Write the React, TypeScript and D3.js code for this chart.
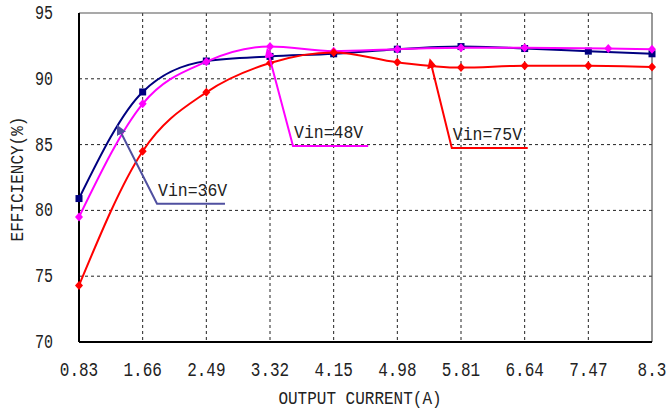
import React from "react";
import * as d3 from "d3";

// Output current (A) at the measured points
const current = [0.83, 1.66, 2.49, 3.32, 4.15, 4.98, 5.81, 6.64, 7.47, 8.3];
const current48 = [0.83, 1.66, 2.49, 3.32, 4.15, 4.98, 5.81, 6.64, 7.73, 8.3];

// Efficiency (%) per input voltage
const eff36 = [80.9, 89.0, 91.35, 91.7, 91.9, 92.25, 92.45, 92.3, 92.1, 91.9];
const eff48 = [79.5, 88.1, 91.3, 92.45, 92.1, 92.25, 92.35, 92.35, 92.3, 92.25];
const eff75 = [74.3, 84.5, 88.97, 91.2, 92.0, 91.25, 90.85, 91.0, 91.0, 90.9];

const xTicks = [0.83, 1.66, 2.49, 3.32, 4.15, 4.98, 5.81, 6.64, 7.47, 8.3];
const xTickLabels = ["0.83", "1.66", "2.49", "3.32", "4.15", "4.98", "5.81", "6.64", "7.47", "8.3"];
const yTicks = [70, 75, 80, 85, 90, 95];

// Callout labels: anchor on curve, elbow, end of the underline (data coords)
const calloutNames = ["Vin=36V", "Vin=48V", "Vin=75V"];
const calloutAnchor: [number, number][] = [[1.378, 85.9], [3.31, 91.7], [5.43, 90.9]];
const calloutElbow: [number, number][] = [[1.847, 80.5], [3.62, 84.9], [5.69, 84.75]];
const calloutEnd = [2.733, 4.6, 6.68];

const W = 671;
const H = 415;
const M = { left: 79, right: 19, top: 13, bottom: 73 };

const NAVY = "#000080";
const MAGENTA = "#FF00FF";
const RED = "#FF0000";
const SLATE = "#5050A0";
const FONT = "'Liberation Mono', 'DejaVu Sans Mono', monospace";

function StretchText(props: {
  x: number; y: number; text: string; size: number; sy: number;
  anchor?: string; rotate?: number; fill?: string;
}) {
  const { x, y, text, size, sy, anchor = "middle", rotate = 0, fill = "#222" } = props;
  return (
    <text
      transform={`translate(${x},${y}) rotate(${rotate}) scale(1,${sy})`}
      textAnchor={anchor}
      dominantBaseline="central"
      fontFamily={FONT}
      fontSize={size}
      fill={fill}
    >
      {text}
    </text>
  );
}

export default function App() {
  const x = d3.scaleLinear().domain([0.83, 8.3]).range([M.left, W - M.right]);
  const y = d3.scaleLinear().domain([70, 95]).range([H - M.bottom, M.top]);

  const series = [
    { xs: current, ys: eff36, color: NAVY, shape: "square" },
    { xs: current48, ys: eff48, color: MAGENTA, shape: "diamond" },
    { xs: current, ys: eff75, color: RED, shape: "diamond" },
  ];

  const line = d3
    .line<[number, number]>()
    .x((d) => x(d[0]))
    .y((d) => y(d[1]))
    .curve(d3.curveMonotoneX);

  const calloutColors = [SLATE, MAGENTA, RED];

  return (
    <svg width={W} height={H} style={{ position: "absolute", left: 0, top: 0, background: "#fff" }}>
      <defs>
        {calloutColors.map((c, i) => (
          <marker
            key={i}
            id={`arrow${i}`}
            viewBox="0 0 10 10"
            refX="1"
            refY="5"
            markerWidth="5"
            markerHeight="5"
            orient="auto-start-reverse"
            markerUnits="strokeWidth"
          >
            <path d="M0,0 L10,5 L0,10 z" fill={c} />
          </marker>
        ))}
      </defs>

      {/* grid */}
      {xTicks.slice(1, -1).map((t) => (
        <line key={`gx${t}`} x1={x(t)} x2={x(t)} y1={y(95)} y2={y(70)}
          stroke="#222" strokeWidth={1} strokeDasharray="3,3" />
      ))}
      {yTicks.slice(1, -1).map((t) => (
        <line key={`gy${t}`} x1={x(0.83)} x2={x(8.3)} y1={y(t)} y2={y(t)}
          stroke="#222" strokeWidth={1} strokeDasharray="3,3" />
      ))}

      {/* frame */}
      <line x1={x(0.83)} x2={x(8.3)} y1={y(95)} y2={y(95)} stroke="#555" strokeWidth={1.2} />
      <line x1={x(8.3)} x2={x(8.3)} y1={y(95)} y2={y(70)} stroke="#555" strokeWidth={1.2} />
      <line x1={x(0.83)} x2={x(0.83)} y1={y(95)} y2={y(70)} stroke="#000" strokeWidth={2} />
      <line x1={x(0.83)} x2={x(8.3)} y1={y(70)} y2={y(70)} stroke="#000" strokeWidth={2} />

      {/* tick labels */}
      {yTicks.map((t) => (
        <StretchText key={`yl${t}`} x={53} y={y(t) + 1} text={String(t)} size={15} sy={1.3} anchor="end" />
      ))}
      {xTicks.map((t, i) => (
        <StretchText key={`xl${t}`} x={x(t)} y={370} text={xTickLabels[i]} size={16} sy={1.25} />
      ))}

      {/* axis titles */}
      <StretchText x={360} y={399} text="OUTPUT CURRENT(A)" size={16} sy={1.15} />
      <StretchText x={18} y={179} text="EFFICIENCY(%)" size={16} sy={1.15} rotate={-90} />

      {/* series */}
      {series.map((s, si) => {
        const pts: [number, number][] = s.xs.map((v, i) => [v, s.ys[i]]);
        return (
          <g key={`s${si}`}>
            <path d={line(pts) || ""} fill="none" stroke={s.color} strokeWidth={2} />
            {pts.map((p, i) =>
              s.shape === "square" ? (
                <rect key={i} x={x(p[0]) - 3.5} y={y(p[1]) - 3.5} width={7} height={7} fill={s.color} />
              ) : (
                <path
                  key={i}
                  d={`M${x(p[0])},${y(p[1]) - 4.5} L${x(p[0]) + 4},${y(p[1])} L${x(p[0])},${y(p[1]) + 4.5} L${x(p[0]) - 4},${y(p[1])} Z`}
                  fill={s.color}
                />
              )
            )}
          </g>
        );
      })}

      {/* callouts */}
      {calloutNames.map((name, i) => {
        const a = calloutAnchor[i];
        const e = calloutElbow[i];
        const c = calloutColors[i];
        return (
          <g key={name}>
            <polyline
              points={`${x(a[0])},${y(a[1])} ${x(e[0])},${y(e[1])} ${x(calloutEnd[i])},${y(e[1])}`}
              fill="none"
              stroke={c}
              strokeWidth={2}
              markerStart={`url(#arrow${i})`}
            />
            <StretchText
              x={x(e[0]) + 1}
              y={y(e[1]) - 13}
              text={name}
              size={16.5}
              sy={1.1}
              anchor="start"
            />
          </g>
        );
      })}
    </svg>
  );
}
